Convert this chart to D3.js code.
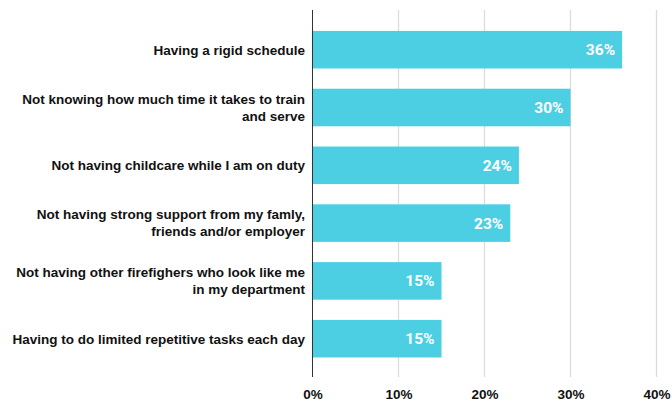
<!DOCTYPE html>
<html>
<head>
<meta charset="utf-8">
<script src="https://cdn.jsdelivr.net/npm/d3@7/dist/d3.min.js"></script>
<style>
  html, body { margin: 0; padding: 0; background: #fff; }
  svg { display: block; }
</style>
</head>
<body>
<svg id="chart" width="672" height="402"></svg>
<script>
// Survey barriers, share of respondents (%)
const categories = [
  ["Having a rigid schedule"],
  ["Not knowing how much time it takes to train", "and serve"],
  ["Not having childcare while I am on duty"],
  ["Not having strong support from my famly,", "friends and/or employer"],
  ["Not having other firefighers who look like me", "in my department"],
  ["Having to do limited repetitive tasks each day"]
];
const values = [36, 30, 24, 23, 15, 15];
const tickValues = [0, 10, 20, 30, 40];

const svg = d3.select("#chart");
const plotLeft = 312.5, plotRight = 656.5;
const plotTop = 10, plotBottom = 377;

const x = d3.scaleLinear().domain([0, 40]).range([plotLeft, plotRight]);
const y = d3.scaleBand()
  .domain(d3.range(values.length))
  .range([20.8, 367.6])
  .paddingInner(0.35)
  .paddingOuter(0.175);

// vertical gridlines
svg.append("g")
  .selectAll("line")
  .data(tickValues.filter(d => d > 0))
  .join("line")
  .attr("x1", d => x(d)).attr("x2", d => x(d))
  .attr("y1", plotTop).attr("y2", plotBottom)
  .attr("stroke", "#dcdcdc")
  .attr("stroke-width", 1.3);

// bars
svg.append("g")
  .selectAll("rect")
  .data(values)
  .join("rect")
  .attr("x", x(0))
  .attr("y", (d, i) => y(i))
  .attr("width", d => x(d) - x(0))
  .attr("height", y.bandwidth())
  .attr("fill", "#4dcfe3");

// value labels inside bars
svg.append("g")
  .selectAll("text")
  .data(values)
  .join("text")
  .attr("x", d => x(d) - 7)
  .attr("y", (d, i) => y(i) + y.bandwidth() / 2)
  .attr("dy", "0.36em")
  .attr("text-anchor", "end")
  .attr("fill", "#ffffff")
  .attr("font-family", "Roboto, 'Noto Sans', sans-serif")
  .attr("font-weight", "bold")
  .attr("font-size", 15.5)
  .text(d => d + "%");

// left axis line
svg.append("line")
  .attr("x1", plotLeft).attr("x2", plotLeft)
  .attr("y1", plotTop).attr("y2", plotBottom)
  .attr("stroke", "#333")
  .attr("stroke-width", 1);

// category labels
const lineH = 17;
const catG = svg.append("g")
  .attr("font-family", "'Liberation Sans', Arial, sans-serif")
  .attr("font-weight", "bold")
  .attr("font-size", 13.5)
  .attr("fill", "#111")
  .attr("text-anchor", "end");
categories.forEach((lines, i) => {
  const cy = y(i) + y.bandwidth() / 2;
  const startY = cy - (lines.length - 1) * lineH / 2;
  const t = catG.append("text").attr("x", 305);
  lines.forEach((ln, j) => {
    t.append("tspan")
      .attr("x", 305)
      .attr("y", startY + j * lineH)
      .attr("dy", "0.36em")
      .text(ln);
  });
});

// x axis tick labels
const xAxis = d3.axisBottom(x)
  .tickValues(tickValues)
  .tickFormat(d => d + "%")
  .tickSize(0)
  .tickPadding(0);
const axG = svg.append("g")
  .attr("transform", "translate(0, 389)")
  .call(xAxis);
axG.select(".domain").remove();
axG.selectAll("text")
  .attr("font-family", "'Liberation Sans', Arial, sans-serif")
  .attr("font-weight", "bold")
  .attr("font-size", 13.5)
  .attr("fill", "#111");
</script>
</body>
</html>
